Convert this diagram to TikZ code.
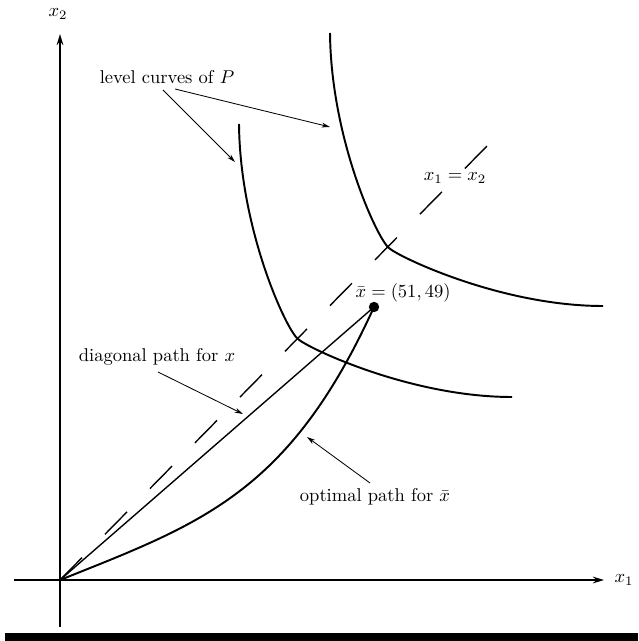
\documentclass[tikz,border=0pt]{standalone}
\usetikzlibrary{arrows.meta}
\begin{document}
\begin{tikzpicture}[x=0.54pt,y=-0.54pt,
  axis/.style={line width=1.05pt,-{Stealth[length=6pt,width=3.6pt]}},
  curve/.style={line width=1.05pt},
  thinline/.style={line width=0.75pt},
  pointer/.style={line width=0.45pt,-{Stealth[length=4.5pt,width=2.6pt]}},
  lbl/.style={inner sep=0pt, font=\fontsize{10}{12}\selectfont}]
\useasboundingbox (0,0) rectangle (638,641);
\fill[black] (5,633) rectangle (638,641);
% axes
\coordinate (O) at (60,580);
\coordinate (xstart) at (14,580);
\coordinate (xend) at (604,580);
\coordinate (ystart) at (60,627);
\coordinate (yend) at (60,34);
\draw[axis] (xstart) -- (xend);
\draw[axis] (ystart) -- (yend);
\node[lbl] (lx1) at (624,580) {$x_1$};
\node[lbl] (lx2) at (58,14) {$x_2$};
% level curves of P (the inner one is the outer one moved along the diagonal)
\draw[curve] (330,33) .. controls (331,140) and (378,240) .. (389,248)
                      .. controls (397,256) and (500,306) .. (603,306);
\draw[curve, shift={(-91,91)}] (330,33) .. controls (331,140) and (378,240) .. (389,248)
                      .. controls (397,256) and (500,306) .. (603,306);
% dashed diagonal x1 = x2
\coordinate (dend) at (487,146);
\draw[thinline, dash pattern=on 16.96pt off 17.68pt] (O) -- (dend);
% point xbar
\node[circle, fill, inner sep=0pt, minimum size=5.6pt] (xbar) at (374,307) {};
% diagonal path
\draw[thinline] (O) -- (xbar.center);
% optimal path
\draw[curve] (O) .. controls (200,524) and (289,494) .. (xbar.center);
% labels
\node[lbl] (lvl) at (167,77) {level curves of $P$};
\node[lbl] (diag) at (157,357) {diagonal path for $x$};
\node[lbl] (opt) at (375,497) {optimal path for $\bar{x}$};
\node[lbl] (xbarlbl) at (403,293) {$\bar{x} = (51,49)$};
\node[lbl] (eq) at (455,178) {$x_1 = x_2$};
% pointers
\coordinate (t1) at (163,90);
\coordinate (h1) at (235,162);
\coordinate (t2) at (175,89);
\coordinate (h2) at (330,127);
\coordinate (t3) at (158,372);
\coordinate (h3) at (243,414);
\coordinate (t4) at (370,483);
\coordinate (h4) at (307,437);
\draw[pointer] (t1) -- (h1);
\draw[pointer] (t2) -- (h2);
\draw[pointer] (t3) -- (h3);
\draw[pointer] (t4) -- (h4);
\end{tikzpicture}
\end{document}
